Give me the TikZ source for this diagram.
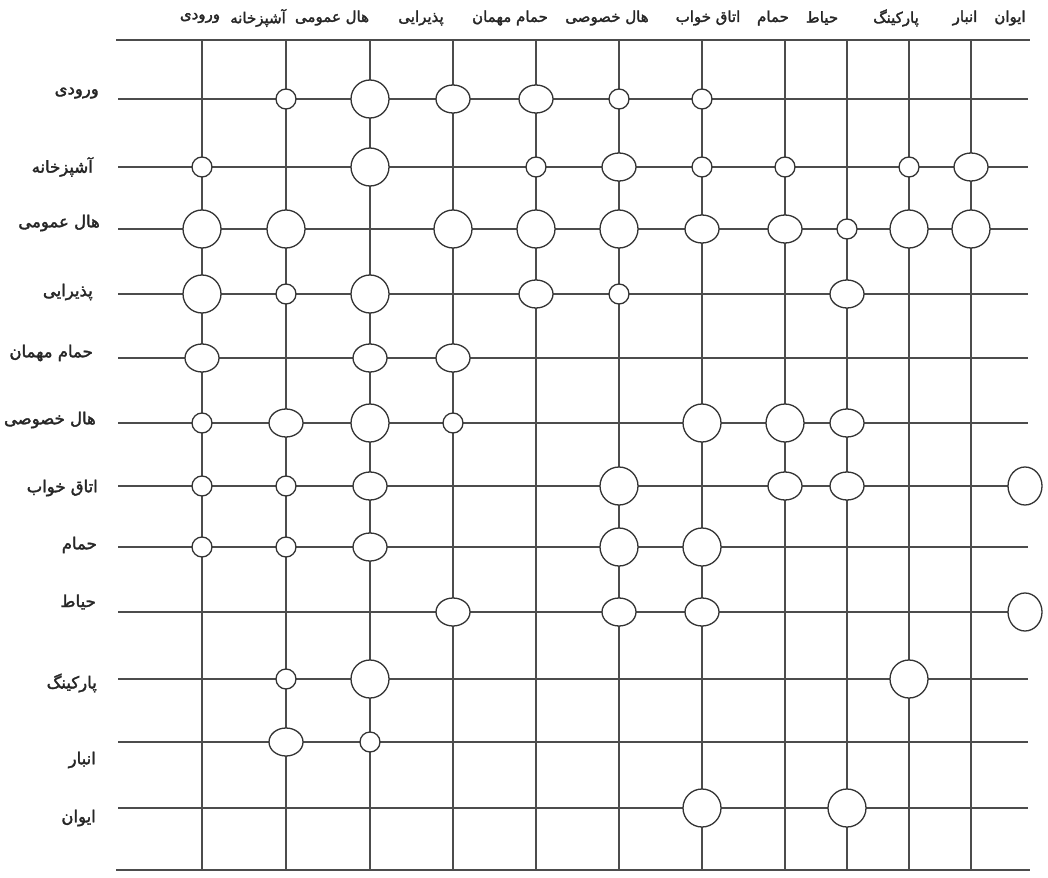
\documentclass[tikz,border=0pt]{standalone}
\usepackage{fontspec}
\usetikzlibrary{shapes.geometric}
\TeXXeTstate=1
\newfontfamily\fa[Script=Arabic,FakeBold=2]{DejaVu Sans}
\begin{document}
\begin{tikzpicture}[x=1pt,y=-1pt,
  grid/.style={draw=black!70, line width=1.2pt},
  ring/.style={draw=black!80, line width=1.3pt, fill=white, inner sep=0pt},
  sm/.style={ring, circle, minimum size=20pt},
  md/.style={ring, ellipse, minimum width=34pt, minimum height=28pt},
  lg/.style={ring, circle, minimum size=38pt},
  tl/.style={ring, ellipse, minimum width=34pt, minimum height=38pt},
  hdr/.style={font=\fa\fontsize{15}{17}\selectfont, text=black!85, inner sep=0pt},
  lbl/.style={font=\fa\fontsize{16.5}{18}\selectfont, text=black!85, inner sep=0pt, anchor=east}]
\useasboundingbox (0,0) rectangle (1048,877);
\fill[white] (0,0) rectangle (1048,877);
% column coordinates
\foreach \x [count=\i] in {202,286,370,453,536,619,702,785,847,909,971} {
  \coordinate (vt\i) at (\x,40);
  \coordinate (vb\i) at (\x,870);
}
\coordinate (vt12) at (1025,40);
% row coordinates
\coordinate (hl0) at (116,40); \coordinate (hr0) at (1030,40);
\foreach \y [count=\r] in {99,167,229,294,358,423,486,547,612,679,742,808} {
  \coordinate (hl\r) at (118,\y);
  \coordinate (hr\r) at (1028,\y);
}
\coordinate (hl13) at (116,870); \coordinate (hr13) at (1030,870);
% grid lines
\foreach \i in {1,...,11} \draw[grid] (vt\i) -- (vb\i);
\foreach \r in {0,1,...,13} \draw[grid] (hl\r) -- (hr\r);
% circles
\foreach \r/\c/\t in {
  1/2/sm, 1/3/lg, 1/4/md, 1/5/md, 1/6/sm, 1/7/sm,
  2/1/sm, 2/3/lg, 2/5/sm, 2/6/md, 2/7/sm, 2/8/sm, 2/10/sm, 2/11/md,
  3/1/lg, 3/2/lg, 3/4/lg, 3/5/lg, 3/6/lg, 3/7/md, 3/8/md, 3/9/sm, 3/10/lg, 3/11/lg,
  4/1/lg, 4/2/sm, 4/3/lg, 4/5/md, 4/6/sm, 4/9/md,
  5/1/md, 5/3/md, 5/4/md,
  6/1/sm, 6/2/md, 6/3/lg, 6/4/sm, 6/7/lg, 6/8/lg, 6/9/md,
  7/1/sm, 7/2/sm, 7/3/md, 7/6/lg, 7/8/md, 7/9/md, 7/12/tl,
  8/1/sm, 8/2/sm, 8/3/md, 8/6/lg, 8/7/lg,
  9/4/md, 9/6/md, 9/7/md, 9/12/tl,
  10/2/sm, 10/3/lg, 10/10/lg,
  11/2/md, 11/3/sm,
  12/7/lg, 12/9/lg}
  \node[\t] (n\r-\c) at (vt\c |- hl\r) {};
% column headers
\node[hdr] (h1)  at (200,18) {\beginR ورودی\endR};
\node[hdr] (h2)  at (258,18) {\beginR آشپزخانه\endR};
\node[hdr] (h3)  at (332,18) {\beginR هال عمومی\endR};
\node[hdr] (h4)  at (421,18) {\beginR پذیرایی\endR};
\node[hdr] (h5)  at (510,18) {\beginR حمام مهمان\endR};
\node[hdr] (h6)  at (607,18) {\beginR هال خصوصی\endR};
\node[hdr] (h7)  at (708,18) {\beginR اتاق خواب\endR};
\node[hdr] (h8)  at (773,18) {\beginR حمام\endR};
\node[hdr] (h9)  at (822,18) {\beginR حیاط\endR};
\node[hdr] (h10) at (896,18) {\beginR پارکینگ\endR};
\node[hdr] (h11) at (965,18) {\beginR انبار\endR};
\node[hdr] (h12) at (1010,18) {\beginR ایوان\endR};
% row labels
\node[lbl] (l1)  at (99,93)  {\beginR ورودی\endR};
\node[lbl] (l2)  at (93,167) {\beginR آشپزخانه\endR};
\node[lbl] (l3)  at (100,223) {\beginR هال عمومی\endR};
\node[lbl] (l4)  at (93,292) {\beginR پذیرایی\endR};
\node[lbl] (l5)  at (93,353) {\beginR حمام مهمان\endR};
\node[lbl] (l6)  at (96,420) {\beginR هال خصوصی\endR};
\node[lbl] (l7)  at (98,488) {\beginR اتاق خواب\endR};
\node[lbl] (l8)  at (97,545) {\beginR حمام\endR};
\node[lbl] (l9)  at (96,602) {\beginR حیاط\endR};
\node[lbl] (l10) at (97,683) {\beginR پارکینگ\endR};
\node[lbl] (l11) at (96,760) {\beginR انبار\endR};
\node[lbl] (l12) at (96,818) {\beginR ایوان\endR};
\end{tikzpicture}
\end{document}
